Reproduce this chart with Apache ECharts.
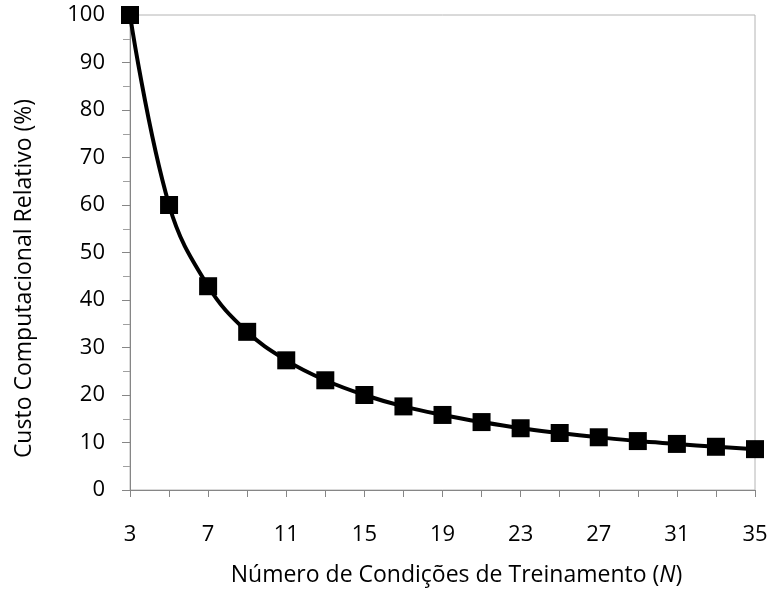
<!DOCTYPE html>
<html>
<head>
<meta charset="utf-8">
<script src="https://cdn.jsdelivr.net/npm/echarts@6/dist/echarts.min.js"></script>
<style>html,body{margin:0;padding:0;background:#fff;}#c{width:771px;height:592px;}</style>
</head>
<body>
<div id="c"></div>
<script>
var categories = ['3','5','7','9','11','13','15','17','19','21','23','25','27','29','31','33','35'];
var costValues = [100, 60, 42.9, 33.3, 27.3, 23.1, 20.0, 17.6, 15.8, 14.3, 13.0, 12.0, 11.1, 10.3, 9.7, 9.1, 8.6];
var yTicks = {min: 0, max: 100, interval: 10};
var xTitle = 'Número de Condições de Treinamento ({i|N})';
var yTitle = 'Custo Computacional Relativo (%)';

var FONT = 'Open Sans';
var chart = echarts.init(document.getElementById('c'), null, {renderer: 'canvas'});
chart.setOption({
  animation: false,
  backgroundColor: '#fff',
  grid: {left: 130, right: 16, top: 15, bottom: 102, show: true, borderColor: '#b4b4b4', borderWidth: 1, backgroundColor: 'transparent'},
  xAxis: {
    type: 'category',
    data: categories,
    boundaryGap: false,
    axisLine: {lineStyle: {color: '#868686', width: 1}},
    axisTick: {show: true, length: 7, interval: 0, lineStyle: {color: '#868686'}},
    axisLabel: {interval: 1, margin: 34, color: '#000', fontSize: 22, fontFamily: FONT},
    splitLine: {show: false},
    name: xTitle,
    nameLocation: 'middle',
    nameGap: 74,
    nameTextStyle: {color: '#000', fontSize: 23, fontFamily: FONT, padding: [0, 0, 0, 28], rich: {i: {fontStyle: 'italic', fontSize: 23, fontFamily: FONT, color: '#000'}}}
  },
  yAxis: {
    type: 'value',
    min: yTicks.min, max: yTicks.max, interval: yTicks.interval,
    axisLine: {show: true, lineStyle: {color: '#868686', width: 1}},
    axisTick: {show: true, length: 8, lineStyle: {color: '#868686'}},
    minorTick: {show: true, splitNumber: 2, length: 7, lineStyle: {color: '#a0a0a0'}},
    axisLabel: {margin: 25, color: '#000', fontSize: 22, fontFamily: FONT},
    splitLine: {show: false},
    name: yTitle,
    nameLocation: 'middle',
    nameGap: 94,
    nameTextStyle: {color: '#000', fontSize: 23, fontFamily: FONT, padding: [0, 52, 0, 0]}
  },
  series: [{
    type: 'line',
    data: costValues,
    smooth: 0.4,
    symbol: 'rect',
    symbolSize: 18,
    itemStyle: {color: '#000'},
    lineStyle: {color: '#000', width: 4},
    clip: false
  }]
});
</script>
</body>
</html>
